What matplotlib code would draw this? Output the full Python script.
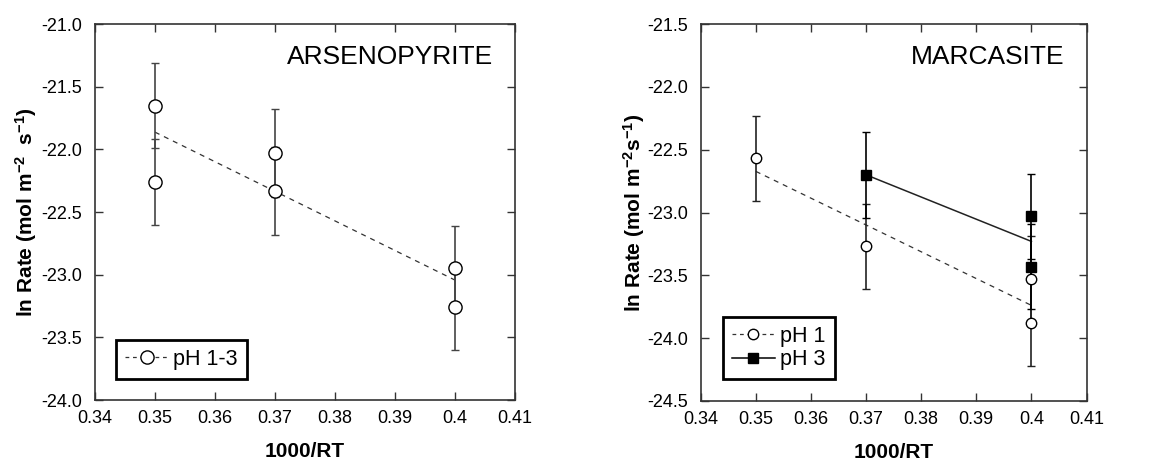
import matplotlib
matplotlib.use("Agg")
import matplotlib.pyplot as plt
import numpy as np
from matplotlib.ticker import FormatStrFormatter, FuncFormatter

plt.rcParams['font.family'] = ['Liberation Sans', 'DejaVu Sans']
plt.rcParams['axes.unicode_minus'] = False
plt.rcParams['mathtext.fontset'] = 'custom'
plt.rcParams['mathtext.rm'] = 'Liberation Sans:bold'
plt.rcParams['mathtext.default'] = 'rm'

# Arsenopyrite, pH 1-3
aspy_x = [0.35, 0.35, 0.37, 0.37, 0.40, 0.40]
aspy_y = [-21.65, -22.26, -22.03, -22.33, -22.95, -23.26]
aspy_err = [0.34, 0.34, 0.35, 0.35, 0.34, 0.34]

# Marcasite, pH 1 and pH 3
marc1_x = [0.35, 0.37, 0.40, 0.40]
marc1_y = [-22.57, -23.27, -23.53, -23.88]
marc1_err = [0.34, 0.34, 0.34, 0.34]

marc3_x = [0.37, 0.40, 0.40]
marc3_y = [-22.70, -23.03, -23.43]
marc3_err = [0.34, 0.34, 0.34]

x_ticks = [0.34, 0.35, 0.36, 0.37, 0.38, 0.39, 0.40, 0.41]


def fit_line(x, y):
    """Least squares line over the data range."""
    p = np.polyfit(x, y, 1)
    xs = np.array([min(x), max(x)])
    return xs, np.polyval(p, xs)


def style_axes(ax, ylim, yticks, ylabel, ypad):
    ax.set_xlim(0.34, 0.41)
    ax.set_ylim(*ylim)
    ax.set_xticks(x_ticks)
    ax.set_yticks(yticks)
    ax.xaxis.set_major_formatter(FuncFormatter(lambda v, _: '%g' % round(v, 2)))
    ax.yaxis.set_major_formatter(FormatStrFormatter('%.1f'))
    ax.tick_params(direction='in', top=True, right=True, length=6, width=1,
                   labelsize=13, color='#333333')
    ax.tick_params(axis='y', pad=9)
    ax.tick_params(axis='x', pad=7)
    for s in ax.spines.values():
        s.set_color('#333333')
        s.set_linewidth(1.2)
    ax.set_xlabel('1000/RT', fontsize=15, fontweight='bold', labelpad=11)
    ax.set_ylabel(ylabel, fontsize=15, fontweight='bold', labelpad=ypad)


def add_legend(ax, handles, labels, anchor):
    leg = ax.legend(handles, labels, loc='lower left', bbox_to_anchor=anchor,
                    borderaxespad=0, fontsize=15.5, fancybox=False,
                    framealpha=1, edgecolor='black', handlelength=2.0,
                    handletextpad=0.25, borderpad=0.42, labelspacing=0.1)
    leg.get_frame().set_linewidth(2)


fig = plt.figure(figsize=(11.51, 4.63), dpi=100)
ax1 = fig.add_axes([0.0825, 0.136, 0.365, 0.812])
ax2 = fig.add_axes([0.6088, 0.134, 0.3352, 0.814])

# left panel
fx, fy = fit_line(aspy_x, aspy_y)
ax1.plot(fx, fy, ls=(0, (4, 4)), color='#333333', lw=0.9, zorder=2)
ax1.errorbar(aspy_x, aspy_y, yerr=aspy_err, fmt='none', ecolor='#444444',
             elinewidth=1.2, capsize=3, capthick=1, zorder=3)
ax1.plot(aspy_x, aspy_y, 'o', ms=9.5, mfc='white', mec='black', mew=1, zorder=4)
h1, = ax1.plot([], [], ls=(0, (3, 3)), color='#333333', lw=0.9, marker='o',
               ms=9.5, mfc='white', mec='black', mew=1)
style_axes(ax1, (-24.0, -21.0), np.arange(-24.0, -20.9, 0.5),
           'ln Rate (mol m$^{-2}$  s$^{-1}$)', 2)
ax1.text(0.948, 0.912, 'ARSENOPYRITE', transform=ax1.transAxes, ha='right',
         va='center', fontsize=19)
add_legend(ax1, [h1], ['pH 1-3'], (0.05, 0.056))

# right panel
fx, fy = fit_line(marc1_x, marc1_y)
ax2.plot(fx, fy, ls=(0, (4, 4)), color='#333333', lw=0.9, zorder=2)
fx, fy = fit_line(marc3_x, marc3_y)
ax2.plot(fx, fy, ls='-', color='#222222', lw=1.1, zorder=2)
ax2.errorbar(marc1_x, marc1_y, yerr=marc1_err, fmt='none', ecolor='#222222',
             elinewidth=1.2, capsize=3, capthick=1, zorder=3)
ax2.errorbar(marc3_x, marc3_y, yerr=marc3_err, fmt='none', ecolor='black',
             elinewidth=1.2, capsize=3, capthick=1, zorder=3)
ax2.plot(marc1_x, marc1_y, 'o', ms=7.5, mfc='white', mec='black', mew=1, zorder=4)
ax2.plot(marc3_x, marc3_y, 's', ms=7.5, mfc='black', mec='black', mew=1, zorder=4)
h2, = ax2.plot([], [], ls=(0, (3, 3)), color='#333333', lw=0.9, marker='o',
               ms=7.5, mfc='white', mec='black', mew=1)
h3, = ax2.plot([], [], ls='-', color='black', lw=1.1, marker='s',
               ms=7.5, mfc='black', mec='black')
style_axes(ax2, (-24.5, -21.5), np.arange(-24.5, -21.4, 0.5),
           'ln Rate (mol m$^{-2}$s$^{-1}$)', 0)
ax2.text(0.944, 0.912, 'MARCASITE', transform=ax2.transAxes, ha='right',
         va='center', fontsize=19)
add_legend(ax2, [h2, h3], ['pH 1', 'pH 3'], (0.057, 0.058))

fig.savefig('out.png', dpi=100)
